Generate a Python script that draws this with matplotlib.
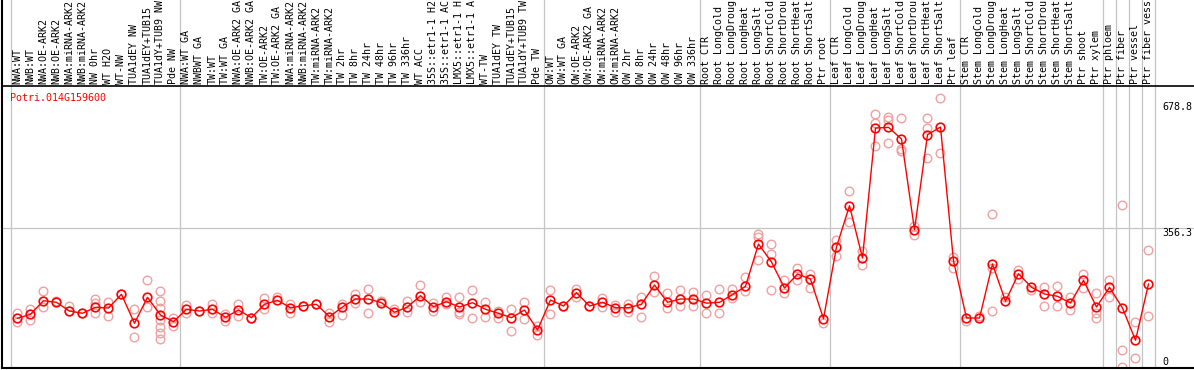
import matplotlib
matplotlib.use("Agg")
import matplotlib.pyplot as plt
import numpy as np

GENE = "Potri.014G159600"

samples = [
    "NWA:WT", "NWB:WT", "NWA:OE-ARK2", "NWB:OE-ARK2", "NWA:miRNA-ARK2", "NWB:miRNA-ARK2",
    "NW 0hr", "WT H2O", "WT-NW", "TUA1dEY NW", "TUA1dEY+TUB15", "TUA1dY+TUB9 NW", "Pde NW",
    "NWA:WT GA", "NWBWT GA", "TW:WT", "TW:WT GA", "NWA:OE-ARK2 GA", "NWB:OE-ARK2 GA",
    "TW:OE-ARK2", "TW:OE-ARK2 GA", "NWA:miRNA-ARK2", "NWB:miRNA-ARK2", "TW:miRNA-ARK2",
    "TW:miRNA-ARK2", "TW 2hr", "TW 8hr", "TW 24hr", "TW 48hr", "TW 96hr", "TW 336hr",
    "WT ACC", "35S::etr1-1 H2O", "35S::etr1-1 ACC", "LMX5::etr1-1 H2O", "LMX5::etr1-1 ACC",
    "WT-TW", "TUA1dEY TW", "TUA1dEY+TUB15", "TUA1dY+TUB9 TW", "Pde TW",
    "OW:WT", "OW:WT GA", "OW:OE-ARK2", "OW:OE-ARK2 GA", "OW:miRNA-ARK2", "OW:miRNA-ARK2",
    "OW 2hr", "OW 8hr", "OW 24hr", "OW 48hr", "OW 96hr", "OW 336hr",
    "Root CTR", "Root LongCold", "Root LongDrought", "Root LongHeat", "Root LongSalt",
    "Root ShortCold", "Root ShortDrought", "Root ShortHeat", "Root ShortSalt", "Ptr root",
    "Leaf CTR", "Leaf LongCold", "Leaf LongDrought", "Leaf LongHeat", "Leaf LongSalt",
    "Leaf ShortCold", "Leaf ShortDrought", "Leaf ShortHeat", "Leaf ShortSalt", "Ptr leaf",
    "Stem CTR", "Stem LongCold", "Stem LongDrought", "Stem LongHeat", "Stem LongSalt",
    "Stem ShortCold", "Stem ShortDrought", "Stem ShortHeat", "Stem ShortSalt",
    "Ptr shoot", "Ptr xylem", "Ptr phloem", "Ptr fiber", "Ptr vessel", "Ptr fiber vessel",
]

# index of the first sample of each group (plus the end)
group_starts = [0, 13, 41, 53, 63, 73, 84, 85, 86, 87, 88]

means = [
    125.2, 135.4, 170.2, 166.1, 143.8, 138.0, 153.3, 151.5, 186.6, 112.4, 178.9, 133.6, 116.5,
    148.2, 143.8, 148.2, 127.7, 146.4, 126.7, 161.0, 171.2, 152.3, 157.4, 161.0, 129.3, 154.1,
    174.6, 174.6, 165.1, 140.5, 154.1, 183.0, 154.8, 167.6, 154.1, 165.1, 148.2, 138.0, 126.7,
    146.4, 95.2,
    172.0, 156.6, 190.7, 156.6, 166.1, 152.3, 152.3, 161.0, 210.4, 166.1, 174.6, 174.6,
    164.0, 166.1, 185.6, 207.1, 315.3, 269.3, 202.7, 238.5, 225.7, 124.1,
    307.7, 413.4, 279.5, 612.2, 614.0, 584.1, 351.9, 595.1, 614.8, 272.6,
    125.9, 125.9, 264.1, 168.7, 239.3, 204.5, 187.4, 181.5, 164.3, 222.4, 154.1,
    204.5, 151.5, 68.9, 212.9,
]

replicates = [
    [138.0, 114.9], [148.2, 120.8], [195.0, 154.8], [169.4], [156.6, 143.8], [138.0],
    [173.8, 165.1, 138.0], [167.6, 131.8], [186.6], [148.2, 77.3], [223.2, 154.8],
    [195.0, 169.4, 152.3, 120.8, 103.7, 86.8, 72.2], [125.2, 106.2],
    [159.2, 138.7], [143.8], [161.0, 138.7], [135.4, 119.0], [161.0, 131.0], [126.7],
    [177.9, 148.2], [178.9], [161.8, 139.5], [157.4], [161.0], [139.5, 114.9], [161.0, 133.6],
    [186.6, 163.5], [200.2, 138.0], [169.4], [148.2], [169.4, 140.5], [210.4, 167.6],
    [165.1, 144.6], [178.9, 161.0], [178.9, 140.5, 135.4], [197.6, 125.2], [166.1, 127.7],
    [143.8, 126.7], [148.2, 92.7], [167.6, 122.6], [106.2, 82.4],
    [197.6, 135.4], [156.6], [200.2, 178.9], [156.6], [177.9, 154.8], [159.2, 140.5],
    [161.0, 142.1], [180.4, 127.7], [233.4, 193.2], [190.7, 150.8], [197.6, 156.6],
    [193.2, 157.4],
    [185.6, 138.7], [200.2, 138.7], [200.2, 177.1], [230.1, 194.3], [341.7, 332.5, 275.1],
    [315.3, 289.7, 198.4], [222.4, 189.9], [253.9, 224.0], [239.3, 202.7], [113.1],
    [326.3, 283.8], [450.2, 370.9], [298.2, 262.3], [648.1, 625.0, 565.4],
    [639.6, 633.5, 573.8], [637.8, 558.5, 552.6], [360.6, 339.1], [637.8, 612.2, 535.4],
    [689.0, 548.2], [281.3, 253.9],
    [117.5], [130.3], [392.1, 253.9, 143.1], [178.9], [249.6, 226.5], [198.4],
    [204.5, 155.9], [207.1, 155.9], [178.9, 147.2], [239.3, 202.7], [189.9, 138.7, 125.9],
    [224.0, 178.9], [414.4, 43.3, 1.0], [114.9, 23.5], [299.2, 130.3],
]

y_ticks = [0, 356.3, 678.8]

MONO = "DejaVu Sans Mono"
FS = 7.2
MAX_CHARS = 14  # the label band only has room for this many characters


def main():
    fig = plt.figure(figsize=(11.94, 3.70), dpi=100)
    ax = fig.add_axes([2 / 1194, 2 / 370, 1 - 2 / 1194, 368 / 370])
    x = np.arange(len(samples))

    ax.set_xlim(-1.19, 90.5)
    ax.set_ylim(-2.05, 940)
    band = 719.7  # boundary between label band and plot area

    for b in group_starts:
        ax.axvline(b - 0.5, color="#c4c4c4", lw=0.9, zorder=1)
    ax.axhline(y_ticks[1], color="#c4c4c4", lw=0.9, zorder=1)
    ax.axhline(band, color="black", lw=1.2, zorder=4)

    rx = [i for i, r in enumerate(replicates) for _ in r]
    ry = [v for r in replicates for v in r]
    ax.plot(rx, ry, "o", ms=6.2, mfc="none", mec="#f0a0a0", mew=1.0, ls="none", zorder=2)
    ax.plot(x, means, "-", color="red", lw=1.0, zorder=3,
            marker="o", ms=6.2, mfc="none", mec="red", mew=1.2)

    for i, s in enumerate(samples):
        ax.text(i, 725, s[:MAX_CHARS], rotation=90, ha="center", va="bottom",
                family=MONO, fontsize=FS, color="black")

    ax.text(-0.58, 690, GENE, color="red", family=MONO, fontsize=FS, va="center", ha="left")

    for t in y_ticks:
        ax.text(88.1, t, f"{t:g}" if t == 0 else f"{t:.1f}", family=MONO, fontsize=FS,
                ha="left", va="bottom" if t == 0 else "top")

    for side in ["top", "right"]:
        ax.spines[side].set_visible(False)
    ax.spines["left"].set_linewidth(1.5)
    ax.spines["bottom"].set_linewidth(1.5)
    ax.set_xticks([])
    ax.set_yticks([])

    fig.savefig("out.png", dpi=100)
    plt.close(fig)


if __name__ == "__main__":
    main()
